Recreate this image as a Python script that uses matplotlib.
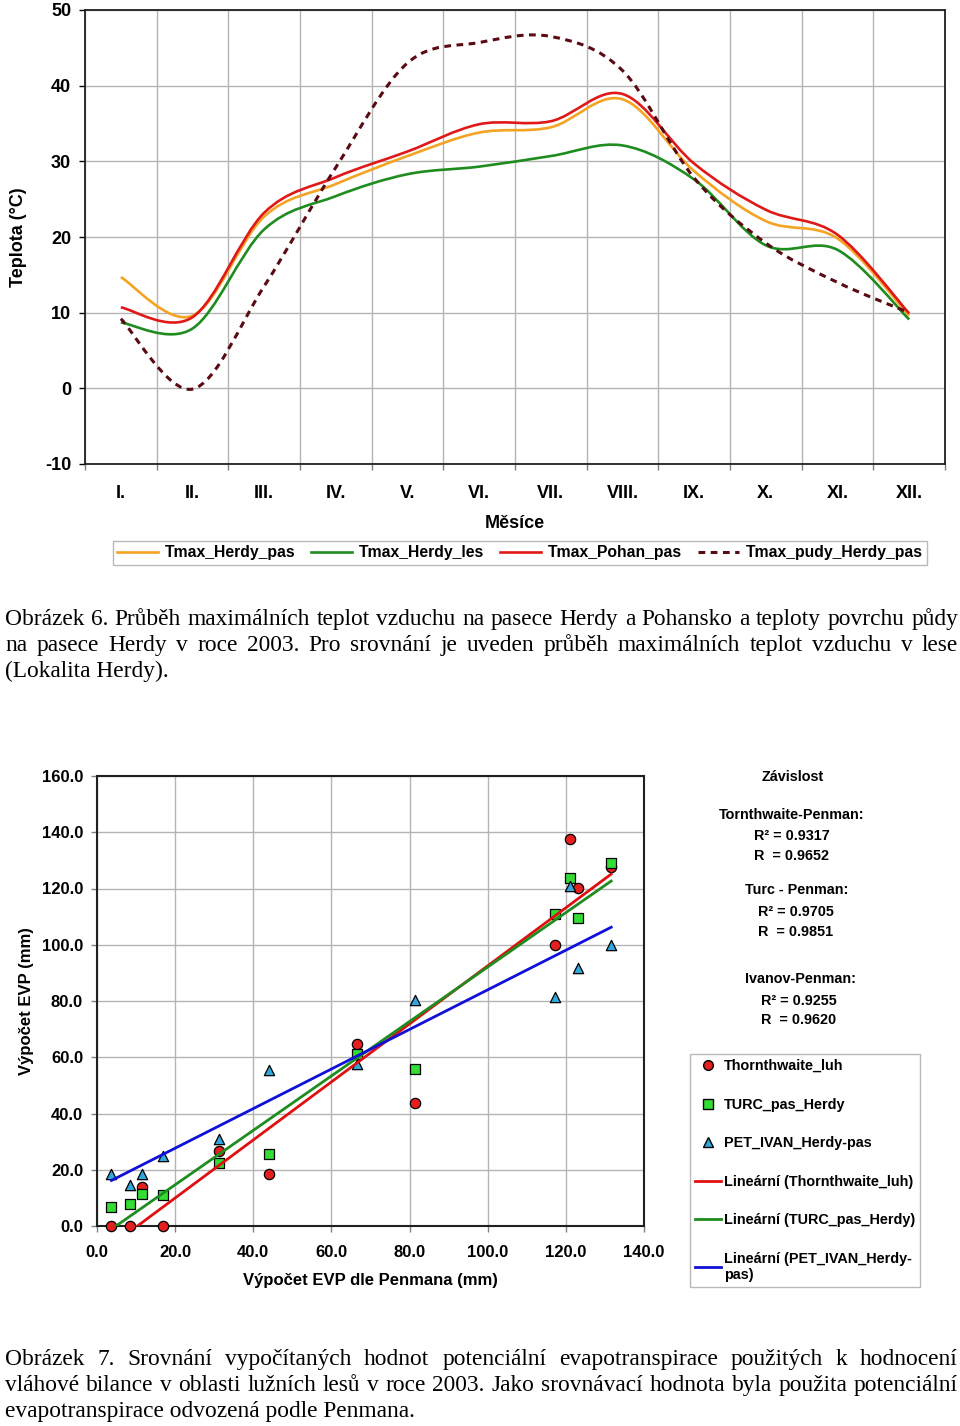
import numpy as np
import matplotlib
matplotlib.use('Agg')
import matplotlib.pyplot as plt
from matplotlib.path import Path
from matplotlib.patches import PathPatch
from matplotlib.lines import Line2D

# ---------------- data: figure 6 ----------------
months = ['I.', 'II.', 'III.', 'IV.', 'V.', 'VI.', 'VII.', 'VIII.', 'IX.', 'X.', 'XI.', 'XII.']
tmax_herdy_pas = [14.7, 9.6, 22.7, 27.0, 30.7, 33.8, 34.5, 38.2, 28.7, 22.1, 19.8, 9.6]
tmax_herdy_les = [8.7, 7.9, 21.0, 25.4, 28.3, 29.3, 30.7, 32.1, 27.6, 18.9, 18.3, 9.1]
tmax_pohan_pas = [10.7, 9.4, 23.2, 27.9, 31.3, 34.9, 35.3, 38.9, 29.7, 23.6, 20.3, 9.9]
tmax_pudy_herdy_pas = [9.2, -0.1, 13.5, 29.2, 43.0, 45.7, 46.5, 42.0, 27.8, 19.2, 14.0, 10.0]

# ---------------- data: figure 7 ----------------
penman = [3.7, 8.5, 11.4, 16.8, 31.3, 44.1, 66.6, 81.3, 117.1, 121.0, 123.0, 131.6]
thornthwaite_luh = [0.0, 0.0, 13.8, 0.0, 26.5, 18.4, 64.6, 43.7, 99.8, 137.6, 120.2, 127.8]
turc_pas_herdy = [6.6, 7.7, 11.5, 11.2, 22.5, 25.7, 61.2, 56.0, 111.0, 123.6, 109.5, 129.1]
pet_ivan_herdy_pas = [18.5, 14.6, 18.4, 24.9, 31.1, 55.6, 57.7, 80.4, 81.5, 121.0, 91.8, 100.0]

caption6 = ["Obrázek 6. Průběh maximálních teplot vzduchu na pasece Herdy a Pohansko a teploty povrchu půdy",
            "na pasece Herdy v roce 2003. Pro srovnání je uveden průběh maximálních teplot vzduchu v lese",
            "(Lokalita Herdy)."]
caption7 = ["Obrázek 7. Srovnání vypočítaných hodnot potenciální evapotranspirace použitých k hodnocení",
            "vláhové bilance v oblasti lužních lesů v roce 2003. Jako srovnávací hodnota byla použita potenciální",
            "evapotranspirace odvozená podle Penmana."]

W, H = 960, 1426
plt.rcParams['font.family'] = ['Liberation Sans', 'DejaVu Sans']
plt.rcParams['font.weight'] = 'bold'
plt.rcParams['axes.unicode_minus'] = False
fig = plt.figure(figsize=(W / 100, H / 100), dpi=100)
fig.patch.set_facecolor('white')


def fx(px):
    return px / W


def fy(py):
    return 1 - py / H


def smooth_path(xs, ys):
    P = np.column_stack([np.asarray(xs, float), np.asarray(ys, float)])
    n = len(P)
    verts = [P[0]]
    codes = [Path.MOVETO]
    for i in range(n - 1):
        p0 = P[i - 1] if i > 0 else P[i]
        p1 = P[i]
        p2 = P[i + 1]
        p3 = P[i + 2] if i + 2 < n else P[i + 1]
        verts += [p1 + (p2 - p0) / 6, p2 - (p3 - p1) / 6, p2]
        codes += [Path.CURVE4] * 3
    return Path(verts, codes)


# ================= top chart =================
ax1 = fig.add_axes([fx(85), fy(464), fx(945) - fx(85), fy(10) - fy(464)])
ax1.set_xlim(0.5, 12.5)
ax1.set_ylim(-10, 50)
ax1.set_yticks(np.arange(-10, 51, 10))
xpos = np.arange(1, 13)
ax1.set_xticks(xpos)
ax1.set_xticklabels(months)
ax1.set_xticks(np.arange(0.5, 12.6, 1), minor=True)
ax1.tick_params(axis='x', which='major', length=0, pad=15, labelsize=13)
ax1.tick_params(axis='x', which='minor', length=4, width=1, color='#808080')
ax1.tick_params(axis='y', length=4, width=1, pad=6, labelsize=13)
ax1.grid(True, which='minor', axis='x', color='#B4B4B4', lw=1)
ax1.grid(True, which='major', axis='y', color='#B4B4B4', lw=1)
ax1.set_axisbelow(True)
for s in ax1.spines.values():
    s.set_color('#202020')
    s.set_linewidth(1.3)

c_orange = '#F4A422'
c_green = '#1E8C1E'
c_red = '#E01818'
c_dash = '#5A0A12'

series = [(tmax_herdy_pas, c_orange, '-', 'Tmax_Herdy_pas'),
          (tmax_herdy_les, c_green, '-', 'Tmax_Herdy_les'),
          (tmax_pohan_pas, c_red, '-', 'Tmax_Pohan_pas'),
          (tmax_pudy_herdy_pas, c_dash, (0, (2.2, 1.8)), 'Tmax_pudy_Herdy_pas')]
handles = []
for vals, col, ls, lab in series:
    lw = 2.2 if ls != '-' else 1.9
    patch = PathPatch(smooth_path(xpos, vals), fill=False, edgecolor=col, lw=lw,
                      linestyle=ls, capstyle='butt', zorder=3)
    ax1.add_patch(patch)
    handles.append(Line2D([], [], color=col, lw=lw, linestyle=ls, label=lab))

ax1.set_ylabel('Teplota (°C)', fontsize=13, fontweight='bold')
ax1.yaxis.set_label_coords((27 - 85) / 860, 0.5)
ax1.set_xlabel('Měsíce', fontsize=13, fontweight='bold', va='center')
ax1.xaxis.set_label_coords(0.5, (464 - 523) / 454)

leg1 = fig.legend(handles=handles, loc='center', bbox_to_anchor=(fx(520), fy(553)), ncol=4,
                  fontsize=11.3, frameon=True, fancybox=False, edgecolor='#A8A8A8',
                  handlelength=2.6, handletextpad=0.45, columnspacing=1.0, borderpad=0.3)
leg1.get_frame().set_linewidth(1.0)

# ================= bottom chart =================
ax2 = fig.add_axes([fx(97), fy(1226), fx(644) - fx(97), fy(776) - fy(1226)])
ax2.set_xlim(0, 140)
ax2.set_ylim(0, 160)
ax2.set_xticks(np.arange(0, 141, 20))
ax2.set_yticks(np.arange(0, 161, 20))
ax2.set_xticklabels([f'{v:.1f}' for v in np.arange(0, 141, 20)])
ax2.set_yticklabels([f'{v:.1f}' for v in np.arange(0, 161, 20)])
ax2.tick_params(axis='x', length=4, width=1, color='#808080', pad=10, labelsize=12)
ax2.tick_params(axis='y', length=4, width=1, color='#808080', pad=6, labelsize=12)
ax2.grid(True, color='#B4B4B4', lw=1)
ax2.set_axisbelow(True)
for s in ax2.spines.values():
    s.set_color('#202020')
    s.set_linewidth(1.5)

m_red = '#E51E1E'
m_green = '#33DD33'
m_blue = '#30A8DC'
l_red = '#E01010'
l_green = '#1E8C1E'
l_blue = '#1010D8'

msz = 55
ax2.scatter(penman, thornthwaite_luh, s=msz, marker='o', facecolor=m_red, edgecolor='black',
            lw=0.9, zorder=3, clip_on=False)
ax2.scatter(penman, turc_pas_herdy, s=msz, marker='s', facecolor=m_green, edgecolor='black',
            lw=0.9, zorder=3, clip_on=False)
ax2.scatter(penman, pet_ivan_herdy_pas, s=msz, marker='^', facecolor=m_blue, edgecolor='black',
            lw=0.9, zorder=3, clip_on=False)

xs = np.array([min(penman), max(penman)])
for ys, col in [(thornthwaite_luh, l_red), (turc_pas_herdy, l_green), (pet_ivan_herdy_pas, l_blue)]:
    k, q = np.polyfit(penman, ys, 1)
    ax2.plot(xs, k * xs + q, color=col, lw=2.0, zorder=4)

ax2.set_xlabel('Výpočet EVP dle Penmana (mm)', fontsize=12, fontweight='bold', va='center')
ax2.xaxis.set_label_coords(0.5, (1226 - 1281) / 450)
ax2.set_ylabel('Výpočet EVP (mm)', fontsize=12, fontweight='bold', va='center')
ax2.yaxis.set_label_coords((26 - 97) / 547, 0.5)

# statistics text
stats = [('Závislost', 793, 777), ('Tornthwaite-Penman:', 792, 815),
         ('R² = 0.9317', 792, 836), ('R  = 0.9652', 792, 856),
         ('Turc - Penman:', 797, 890), ('R² = 0.9705', 796, 912), ('R  = 0.9851', 796, 932),
         ('Ivanov-Penman:', 800, 979), ('R² = 0.9255', 799, 1001), ('R  = 0.9620', 799, 1020)]
for t, x, y in stats:
    fig.text(fx(x), fy(y), t, ha='center', va='center', fontsize=10.4, fontweight='bold')

h2 = [Line2D([], [], marker='o', ls='none', markerfacecolor=m_red, markeredgecolor='black', markersize=7),
      Line2D([], [], marker='s', ls='none', markerfacecolor=m_green, markeredgecolor='black', markersize=6.5),
      Line2D([], [], marker='^', ls='none', markerfacecolor=m_blue, markeredgecolor='black', markersize=7),
      Line2D([], [], color=l_red, lw=2),
      Line2D([], [], color=l_green, lw=2),
      Line2D([], [], color=l_blue, lw=2)]
labs2 = ['Thornthwaite_luh', 'TURC_pas_Herdy', 'PET_IVAN_Herdy-pas',
         'Lineární (Thornthwaite_luh)', 'Lineární (TURC_pas_Herdy)', 'Lineární (PET_IVAN_Herdy-\npas)']
leg2 = fig.legend(handles=h2, labels=labs2, loc='upper left', bbox_to_anchor=(fx(690), fy(1054)),
                  fontsize=10.4, frameon=True, fancybox=False, edgecolor='#A8A8A8',
                  handlelength=1.8, handletextpad=0.2, labelspacing=1.7, borderpad=0.35,
                  borderaxespad=0)
leg2.get_frame().set_linewidth(1.0)

# ================= captions (justified) =================
renderer = fig.canvas.get_renderer()


def justified(lines, baselines, x0=5, x1=958, size=16.8):
    for i, (line, yb) in enumerate(zip(lines, baselines)):
        kw = dict(fontsize=size, fontweight='normal', family=['Liberation Serif', 'DejaVu Serif'],
                  va='baseline', ha='left')
        if i == len(lines) - 1:
            fig.text(fx(x0), fy(yb), line, **kw)
            continue
        words = line.split(' ')
        ts = [fig.text(0, fy(yb), w, **kw) for w in words]
        widths = [t.get_window_extent(renderer).width for t in ts]
        gap = (x1 - x0 - sum(widths)) / (len(words) - 1)
        x = x0
        for t, wd in zip(ts, widths):
            t.set_x(fx(x))
            x += wd + gap


justified(caption6, [625, 651, 677])
justified(caption7, [1365, 1391, 1417])

fig.savefig('out.png', dpi=100, facecolor='white')
